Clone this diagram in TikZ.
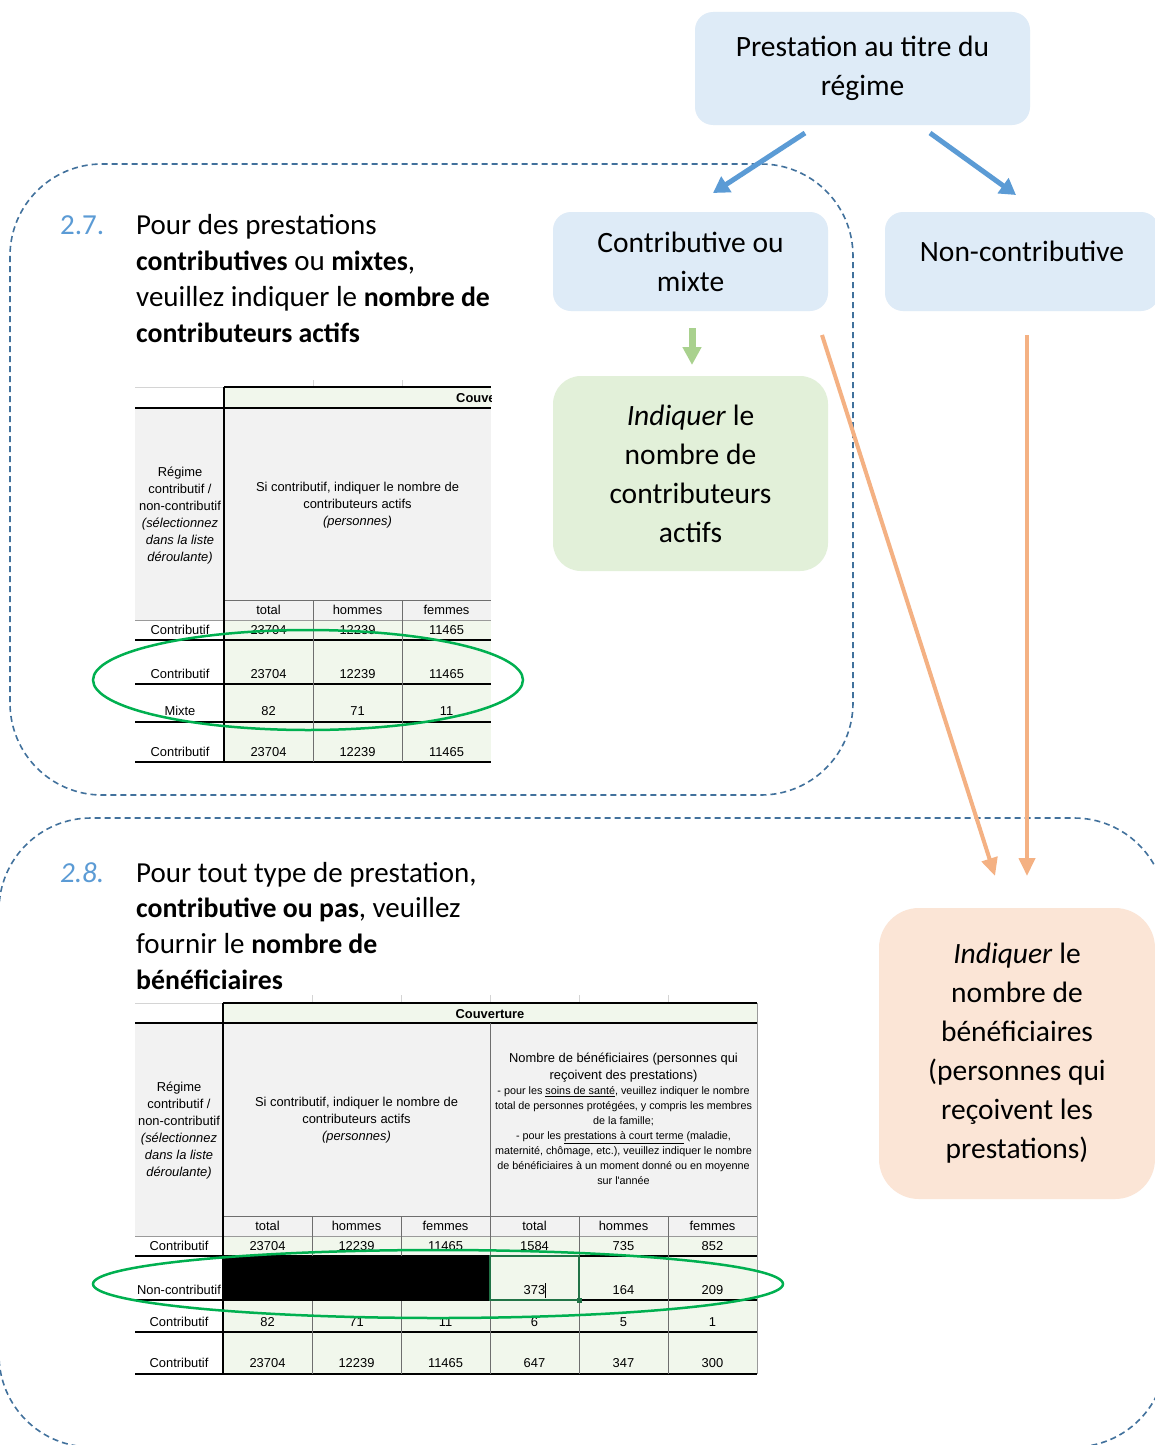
\documentclass[tikz,border=0pt]{standalone}
\usepackage{fontspec}
\setmainfont{Carlito}
\newfontfamily\tabfont{Liberation Sans}
\usetikzlibrary{arrows.meta,calc}
\definecolor{boxblue}{HTML}{DEEBF7}
\definecolor{boxgreen}{HTML}{E2F0D9}
\definecolor{boxorange}{HTML}{FBE5D6}
\definecolor{arrowblue}{HTML}{5B9BD5}
\definecolor{arrowgreen}{HTML}{A9D18E}
\definecolor{arroworange}{HTML}{F4B183}
\definecolor{dashblue}{HTML}{41719C}
\definecolor{numblue}{HTML}{5B9BD5}
\definecolor{ellgreen}{HTML}{00B050}
\definecolor{cellgreen}{HTML}{F1F7EC}
\definecolor{cellgray}{HTML}{F2F2F2}
\definecolor{gridgray}{HTML}{D4D4D4}
\definecolor{midgray}{HTML}{9A9A9A}
\definecolor{dkgray}{HTML}{6E6E6E}
\definecolor{selgreen}{HTML}{217346}
\newcommand{\bt}[1]{{\fontsize{27.8}{36}\selectfont\bfseries #1}}
\begin{document}
\begin{tikzpicture}[x=1pt,y=-1pt,
  bigtxt/.style={font=\fontsize{29.5}{39}\selectfont, align=center, text=black, inner sep=0pt},
  rbox/.style={bigtxt, rounded corners=18pt},
  paratxt/.style={font=\fontsize{29}{36}\selectfont, anchor=base west, inner sep=0pt, text=black},
  dashbox/.style={draw=dashblue, line width=1.6pt, dash pattern=on 6pt off 4pt, rounded corners=92pt},
  barrow/.style={draw=arrowblue, line width=5pt, -{Triangle[width=18pt,length=16pt]}},
  garrow/.style={draw=arrowgreen, line width=7pt, -{Triangle[width=18pt,length=18pt]}},
  oarrow/.style={draw=arroworange, line width=4pt, -{Triangle[width=16pt,length=18pt]}},
  tcell/.style={font=\tabfont\fontsize{12.9}{15}\selectfont, anchor=base, inner sep=0pt, text=black},
  tsmall/.style={font=\tabfont\fontsize{10.8}{12}\selectfont, anchor=base, inner sep=0pt, text=black},
  tbold/.style={font=\tabfont\bfseries\fontsize{12.9}{15}\selectfont, anchor=base, inner sep=0pt, text=black},
  blk/.style={draw=black, line width=1.2pt},
  gry/.style={draw=dkgray, line width=1pt},
  ell/.style={draw=ellgreen, line width=2.5pt}
]
\useasboundingbox (0,0) rectangle (1155,1445);
\fill[white] (0,0) rectangle (1155,1445);

% dashed groups
\draw[dashbox] (10,164) rectangle (853,795);
\draw[dashbox] (-1,818) rectangle (1166,1447);

% ---------------- paragraph 2.7
\node[paratxt, text=numblue] (n27) at (60,234) {2.7.};
\node[paratxt] (p27a) at (136,234) {Pour des prestations};
\node[paratxt] (p27b) at (136,270) {\bt{contributives} ou \bt{mixtes},};
\node[paratxt] (p27c) at (136,306) {veuillez indiquer le \bt{nombre de}};
\node[paratxt] (p27d) at (136,342) {\bt{contributeurs actifs}};

% ---------------- table 1
\fill[cellgreen] (224,387) rectangle (491,408);
\fill[cellgray] (135,408) rectangle (491,620);
\fill[cellgreen] (224,620) rectangle (491,762);
\draw[draw=gridgray, line width=0.8pt] (135,387) -- (224,387);
\foreach \x in {313,402} \draw[draw=gridgray, line width=0.8pt] (\x,380) -- (\x,387);
\draw[blk] (224,387) -- (491,387);
\draw[blk] (135,408) -- (491,408);
\draw[gry] (224,600) -- (491,600);
\draw[draw=midgray, line width=1pt] (135,620) -- (491,620);
\foreach \y in {640,684,722,762} \draw[blk] (135,\y) -- (491,\y);
\draw[blk] (224,387) -- (224,762);
\foreach \x in {313,402} \draw[gry] (\x,600) -- (\x,762);
\begin{scope}
\clip (224,387) rectangle (491,408);
\node[tbold, anchor=base west] (t1cov) at (456,402.5) {Couverture};
\end{scope}
\node[tcell] (t1r1) at (180,476.5) {Régime};
\node[tcell] (t1r2) at (180,493.5) {contributif /};
\node[tcell] (t1r3) at (180,510.5) {non-contributif};
\node[tcell] (t1r4) at (180,527.5) {\itshape (sélectionnez};
\node[tcell] (t1r5) at (180,544.5) {\itshape dans la liste};
\node[tcell] (t1r6) at (180,561.5) {\itshape déroulante)};
\node[tcell] (t1s1) at (357.5,491.5) {Si contributif, indiquer le nombre de};
\node[tcell] (t1s2) at (357.5,508.5) {contributeurs actifs};
\node[tcell] (t1s3) at (357.5,525.5) {\itshape (personnes)};
\node[tcell] (t1h1) at (268.5,614.5) {total};
\node[tcell] (t1h2) at (357.5,614.5) {hommes};
\node[tcell] (t1h3) at (446.5,614.5) {femmes};
\foreach \lab/\a/\b/\c/\y in {Contributif/23704/12239/11465/630, Contributif/23704/12239/11465/674, Mixte/82/71/11/711, Contributif/23704/12239/11465/752} {
  \node[tcell] (t1l\y) at (180,\y+4.5) {\lab};
  \node[tcell] (t1a\y) at (268.5,\y+4.5) {\a};
  \node[tcell] (t1b\y) at (357.5,\y+4.5) {\b};
  \node[tcell] (t1c\y) at (446.5,\y+4.5) {\c};
}
\draw[ell] (308,680) ellipse [x radius=215pt, y radius=50pt];

% ---------------- paragraph 2.8
\node[paratxt, text=numblue] (n28) at (60,882) {\textit{2.8.}};
\node[paratxt] (p28a) at (136,882) {Pour tout type de prestation,};
\node[paratxt] (p28b) at (136,917) {\bt{contributive ou pas}, veuillez};
\node[paratxt] (p28c) at (136,953) {fournir le \bt{nombre de}};
\node[paratxt] (p28d) at (136,989) {\bt{bénéficiaires}};

% ---------------- table 2
\fill[cellgreen] (223,1003) rectangle (757,1023);
\fill[cellgray] (135,1023) rectangle (757,1236);
\fill[cellgreen] (223,1236) rectangle (757,1374);
\draw[draw=gridgray, line width=0.8pt] (135,1003) -- (223,1003);
\foreach \x in {312,401,490,579,668} \draw[draw=gridgray, line width=0.8pt] (\x,995) -- (\x,1003);
\draw[blk] (223,1003) -- (757,1003);
\draw[blk] (135,1023) -- (757,1023);
\draw[gry] (223,1216) -- (757,1216);
\draw[draw=midgray, line width=1pt] (135,1236) -- (757,1236);
\foreach \y in {1256,1300,1332,1374} \draw[blk] (135,\y) -- (757,\y);
\draw[blk] (223,1003) -- (223,1374);
\draw[gry] (490,1023) -- (490,1374);
\foreach \x in {312,401,579,668} \draw[gry] (\x,1216) -- (\x,1374);
\draw[draw=midgray, line width=1pt] (757,1003) -- (757,1374);
\fill[black] (222,1256) rectangle (490,1300.5);
\draw[draw=selgreen, line width=1.5pt] (490,1256) rectangle (579,1300);
\fill[selgreen] (576.5,1297.5) rectangle (581.5,1302.5);
\node[tbold] (t2cov) at (490,1018.5) {Couverture};
\node[tcell] (t2r1) at (179,1091.5) {Régime};
\node[tcell] (t2r2) at (179,1108.5) {contributif /};
\node[tcell] (t2r3) at (179,1125.5) {non-contributif};
\node[tcell] (t2r4) at (179,1142.5) {\itshape (sélectionnez};
\node[tcell] (t2r5) at (179,1159.5) {\itshape dans la liste};
\node[tcell] (t2r6) at (179,1176.5) {\itshape déroulante)};
\node[tcell] (t2s1) at (356.5,1106.5) {Si contributif, indiquer le nombre de};
\node[tcell] (t2s2) at (356.5,1123.5) {contributeurs actifs};
\node[tcell] (t2s3) at (356.5,1140.5) {\itshape (personnes)};
\node[tcell] (t2n1) at (623.5,1062.5) {Nombre de bénéficiaires (personnes qui};
\node[tcell] (t2n2) at (623.5,1079.5) {reçoivent des prestations)};
\node[tsmall] (t2m1) at (623.5,1094.5) {- pour les \underline{soins de santé}, veuillez indiquer le nombre};
\node[tsmall] (t2m2) at (623.5,1109.5) {total de personnes protégées, y compris les membres};
\node[tsmall] (t2m3) at (623.5,1124.5) {de la famille;};
\node[tsmall] (t2m4) at (623.5,1139.5) {- pour les \underline{prestations à court terme} (maladie,};
\node[tsmall] (t2m5) at (623.5,1154.5) {maternité, chômage, etc.), veuillez indiquer le nombre};
\node[tsmall] (t2m6) at (623.5,1169.5) {de bénéficiaires à un moment donné ou en moyenne};
\node[tsmall] (t2m7) at (623.5,1184.5) {sur l'année};
\foreach \x/\t [count=\i] in {267.5/total,356.5/hommes,445.5/femmes,534.5/total,623.5/hommes,712.5/femmes}
  \node[tcell] (t2h\i) at (\x,1230.5) {\t};
\foreach \lab/\a/\b/\c/\d/\e/\f/\y in {Contributif/23704/12239/11465/1584/735/852/1246, Contributif/82/71/11/6/5/1/1322, Contributif/23704/12239/11465/647/347/300/1363} {
  \node[tcell] (t2l\y) at (179,\y+4.5) {\lab};
  \node[tcell] (t2a\y) at (267.5,\y+4.5) {\a};
  \node[tcell] (t2b\y) at (356.5,\y+4.5) {\b};
  \node[tcell] (t2c\y) at (445.5,\y+4.5) {\c};
  \node[tcell] (t2d\y) at (534.5,\y+4.5) {\d};
  \node[tcell] (t2e\y) at (623.5,\y+4.5) {\e};
  \node[tcell] (t2f\y) at (712.5,\y+4.5) {\f};
}
\node[tcell] (t2l1290) at (179,1294.5) {Non-contributif};
\node[tcell] (t2d1290) at (534.5,1294.5) {373};
\node[tcell] (t2e1290) at (623.5,1294.5) {164};
\node[tcell] (t2f1290) at (712.5,1294.5) {209};
\draw[draw=black, line width=0.8pt] (545,1283) -- (545,1298);
\draw[ell] (438,1284) ellipse [x radius=345pt, y radius=34pt];

% ---------------- flow boxes
\node[rbox, fill=boxblue, minimum width=335pt, minimum height=113pt] (top) at (862.5,68.5) {Prestation au titre du\\régime};
\node[rbox, fill=boxblue, minimum width=275pt, minimum height=99pt] (cm) at (690.5,261.5) {Contributive ou\\mixte};
\node[rbox, fill=boxblue, minimum width=274pt, minimum height=99pt] (nc) at (1022,261.5) {};
\node[bigtxt] (nctxt) at ($(nc.center)+(0,-10)$) {Non-contributive};
\node[rbox, fill=boxgreen, rounded corners=28pt, minimum width=275pt, minimum height=195pt] (ind1) at (690.5,473.5) {\textit{Indiquer} le\\nombre de\\contributeurs\\actifs};
\node[rbox, fill=boxorange, rounded corners=40pt, minimum width=276pt, minimum height=291pt] (ind2) at (1017,1053.5) {\textit{Indiquer} le\\nombre de\\bénéficiaires\\(personnes qui\\reçoivent les\\prestations)};

% ---------------- connectors
\coordinate (a1s) at (805,133);
\coordinate (a1e) at (713,193);
\coordinate (a2s) at (930,133);
\coordinate (a2e) at (1016,195);
\coordinate (g1s) at (692,328);
\coordinate (g1e) at (692,365);
\coordinate (o1s) at (822,335);
\coordinate (o1e) at (995,876);
\coordinate (o2s) at (1027,335);
\coordinate (o2e) at (1027,876);
\draw[barrow] (a1s) -- (a1e);
\draw[barrow] (a2s) -- (a2e);
\draw[garrow] (g1s) -- (g1e);
\draw[oarrow] (o1s) -- (o1e);
\draw[oarrow] (o2s) -- (o2e);
\end{tikzpicture}
\end{document}
